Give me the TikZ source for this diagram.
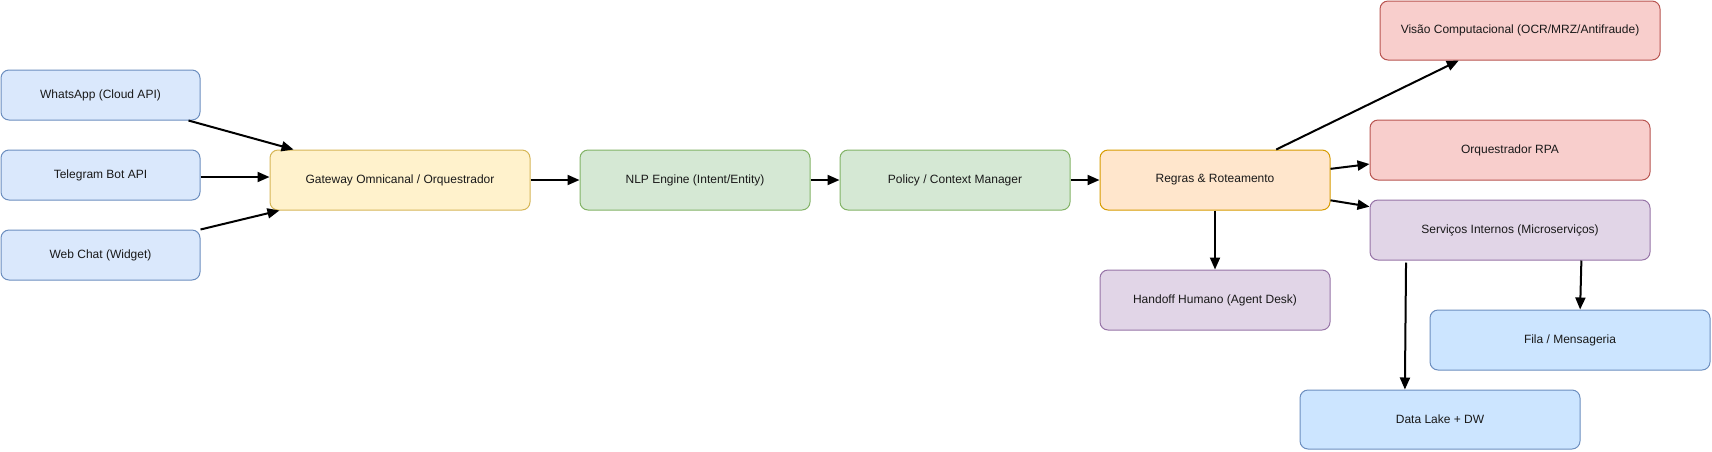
\documentclass[tikz,border=0pt]{standalone}
\usepackage{fontspec}
\setmainfont{Liberation Sans}
\usetikzlibrary{arrows.meta,calc}
\definecolor{bluefill}{HTML}{DAE8FC}
\definecolor{bluedraw}{HTML}{6C8EBF}
\definecolor{lbluefill}{HTML}{CCE5FF}
\definecolor{yelfill}{HTML}{FFF2CC}
\definecolor{yeldraw}{HTML}{D6B656}
\definecolor{grnfill}{HTML}{D5E8D4}
\definecolor{grndraw}{HTML}{82B366}
\definecolor{orgfill}{HTML}{FFE6CC}
\definecolor{orgdraw}{HTML}{D79B00}
\definecolor{redfill}{HTML}{F8CECC}
\definecolor{reddraw}{HTML}{B85450}
\definecolor{purfill}{HTML}{E1D5E7}
\definecolor{purdraw}{HTML}{9673A6}
\tikzset{
  box/.style={rectangle, rounded corners=8pt, line width=1pt, inner sep=0pt,
    font=\fontsize{12}{14}\selectfont, text=black!90},
  bluebox/.style={box, fill=bluefill, draw=bluedraw},
  lbluebox/.style={box, fill=lbluefill, draw=bluedraw},
  yelbox/.style={box, fill=yelfill, draw=yeldraw},
  grnbox/.style={box, fill=grnfill, draw=grndraw},
  orgbox/.style={box, fill=orgfill, draw=orgdraw},
  redbox/.style={box, fill=redfill, draw=reddraw},
  purbox/.style={box, fill=purfill, draw=purdraw},
  sz/.style n args={2}{minimum width=#1pt, minimum height=#2pt},
  conn/.style={line width=2pt, -{Triangle[length=12pt,width=10pt]}, black},
}
\begin{document}
\begin{tikzpicture}[x=1pt,y=-1pt]
\useasboundingbox (0,0) rectangle (1712,451);
% sources
\node[bluebox, sz={199}{50}] (wa) at (100.5,95) {WhatsApp (Cloud API)};
\node[bluebox, sz={199}{50}] (tg) at (100.5,175) {Telegram Bot API};
\node[bluebox, sz={199}{50}] (wc) at (100.5,255) {Web Chat (Widget)};
% pipeline
\node[yelbox, sz={260}{60}] (gw) at (400,180) {Gateway Omnicanal / Orquestrador};
\node[grnbox, sz={230}{60}] (nlp) at (695,180) {NLP Engine (Intent/Entity)};
\node[grnbox, sz={230}{60}] (pol) at (955,180) {Policy / Context Manager};
\node[orgbox, sz={230}{60}] (reg) at (1215,180) {Regras \& Roteamento};
% targets
\node[redbox, sz={280}{59}] (vis) at (1520,30.5) {Visão Computacional (OCR/MRZ/Antifraude)};
\node[redbox, sz={280}{60}] (rpa) at (1510,150) {Orquestrador RPA};
\node[purbox, sz={280}{60}] (srv) at (1510,230) {Serviços Internos (Microserviços)};
\node[purbox, sz={230}{60}] (hand) at (1215,300) {Handoff Humano (Agent Desk)};
\node[lbluebox, sz={280}{60}] (fila) at (1570,340) {Fila / Mensageria};
\node[lbluebox, sz={280}{59}] (dl) at (1440,419.5) {Data Lake + DW};
% connector anchors
\coordinate (tgs) at ($(tg.east)+(0,2)$);
\coordinate (was) at ($(wa.south west)!0.94!(wa.south east)$);
\coordinate (wae) at ($(gw.north west)!0.092!(gw.north east)$);
\coordinate (wce) at ($(gw.south west)!0.038!(gw.south east)$);
\coordinate (rvs) at ($(reg.north west)!0.765!(reg.north east)$);
\coordinate (rve) at ($(vis.south west)!0.282!(vis.south east)$);
\coordinate (rrs) at ($(reg.north east)!0.317!(reg.south east)$);
\coordinate (rre) at ($(rpa.north west)!0.73!(rpa.south west)$);
\coordinate (rss) at ($(reg.north east)!0.833!(reg.south east)$);
\coordinate (rse) at ($(srv.north west)!0.117!(srv.south west)$);
\coordinate (sds) at ($(srv.south west)!0.13!(srv.south east)+(0,2)$);
\coordinate (sde) at ($(dl.north west)!0.375!(dl.north east)$);
\coordinate (sfs) at ($(srv.south west)!0.754!(srv.south east)$);
\coordinate (sfe) at ($(fila.north west)!0.536!(fila.north east)$);
% connectors
\draw[conn] (was) -- (wae);
\draw[conn] (tgs) -- (tgs -| gw.west);
\draw[conn] (wc.north east) -- (wce);
\draw[conn] (gw.east) -- (nlp.west);
\draw[conn] (nlp.east) -- (pol.west);
\draw[conn] (pol.east) -- (reg.west);
\draw[conn] (rvs) -- (rve);
\draw[conn] (rrs) -- (rre);
\draw[conn] (rss) -- (rse);
\draw[conn] (reg.south) -- (hand.north);
\draw[conn] (sds) -- (sde);
\draw[conn] (sfs) -- (sfe);
\end{tikzpicture}
\end{document}
